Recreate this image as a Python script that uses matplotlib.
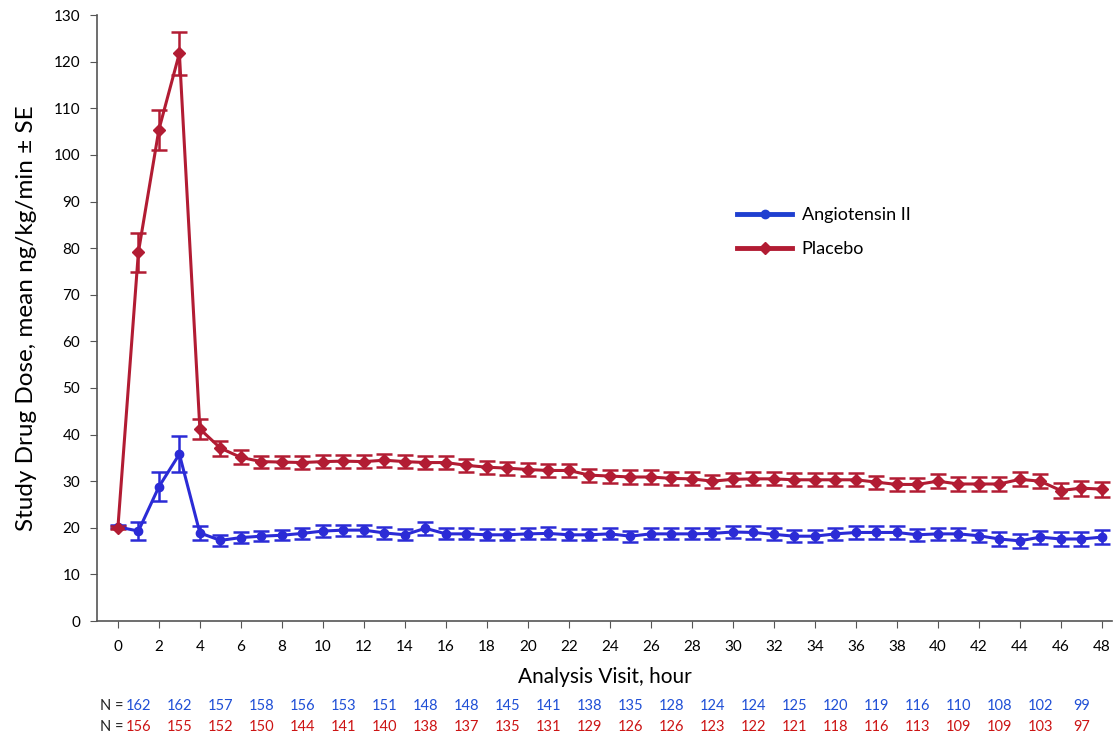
import numpy as np
import matplotlib
matplotlib.use("Agg")
import matplotlib.pyplot as plt
from matplotlib import transforms
from matplotlib.lines import Line2D

plt.rcParams['font.family'] = ['Lato', 'DejaVu Sans']

# hours since start of infusion
hours = list(range(49))

# mean study drug dose (ng/kg/min) and standard errors
ang_mean = [20.2, 19.3, 28.8, 35.8, 18.9, 17.3, 17.9, 18.2, 18.4, 18.8,
            19.3, 19.5, 19.5, 18.9, 18.5, 19.9, 18.7, 18.7, 18.5, 18.5,
            18.7, 18.8, 18.5, 18.5, 18.7, 18.2, 18.7, 18.7, 18.7, 18.8,
            19.1, 19.0, 18.6, 18.2, 18.2, 18.7, 19.0, 19.0, 19.0, 18.5,
            18.7, 18.7, 18.3, 17.6, 17.2, 18.0, 17.6, 17.6, 18.0]
ang_se = [0.3, 1.9, 3.1, 3.9, 1.5, 1.2, 1.1, 1.1, 1.1, 1.2,
          1.2, 1.2, 1.2, 1.2, 1.2, 1.4, 1.2, 1.2, 1.2, 1.2,
          1.2, 1.3, 1.2, 1.2, 1.2, 1.2, 1.2, 1.2, 1.2, 1.2,
          1.3, 1.3, 1.3, 1.3, 1.3, 1.3, 1.3, 1.3, 1.3, 1.3,
          1.3, 1.3, 1.3, 1.4, 1.5, 1.4, 1.4, 1.4, 1.5]

pbo_mean = [20.0, 79.1, 105.4, 121.8, 41.2, 37.1, 35.1, 34.2, 34.1, 34.0,
            34.2, 34.3, 34.2, 34.5, 34.2, 34.0, 34.0, 33.4, 33.0, 32.8,
            32.5, 32.3, 32.3, 31.3, 31.1, 30.9, 30.9, 30.6, 30.5, 30.0,
            30.4, 30.5, 30.5, 30.3, 30.3, 30.3, 30.3, 29.8, 29.3, 29.3,
            30.0, 29.4, 29.4, 29.4, 30.4, 30.0, 28.0, 28.5, 28.3]
pbo_se = [0.3, 4.2, 4.3, 4.6, 2.1, 1.6, 1.5, 1.3, 1.3, 1.4,
          1.4, 1.4, 1.4, 1.4, 1.4, 1.4, 1.4, 1.4, 1.4, 1.4,
          1.4, 1.4, 1.4, 1.4, 1.4, 1.4, 1.4, 1.4, 1.4, 1.4,
          1.4, 1.4, 1.4, 1.4, 1.4, 1.4, 1.4, 1.4, 1.4, 1.4,
          1.5, 1.5, 1.5, 1.5, 1.5, 1.5, 1.6, 1.6, 1.6]

# patients at risk, shown every other hour
n_hours = list(range(1, 48, 2))
n_ang = [162, 162, 157, 158, 156, 153, 151, 148, 148, 145, 141, 138,
         135, 128, 124, 124, 125, 120, 119, 116, 110, 108, 102, 99]
n_pbo = [156, 155, 152, 150, 144, 141, 140, 138, 137, 135, 131, 129,
         126, 126, 123, 122, 121, 118, 116, 113, 109, 109, 103, 97]

blue = '#2B2BD6'
red = '#B21C33'

fig = plt.figure(figsize=(11.16, 7.38), dpi=100)
ax = fig.add_axes([0.0869, 0.1585, 0.9095, 0.8211])

ax.errorbar(hours, ang_mean, yerr=ang_se, color=blue, lw=2.2, marker='o',
            ms=6, capsize=5.5, capthick=1.8, elinewidth=1.8,
            label='Angiotensin II', zorder=3)
ax.errorbar(hours, pbo_mean, yerr=pbo_se, color=red, lw=2.2, marker='D',
            ms=6, capsize=5.5, capthick=1.8, elinewidth=1.8,
            label='Placebo', zorder=3)

ax.set_xlim(-1.02, 48.5)
ax.set_ylim(0, 130)
ax.set_xticks(range(0, 49, 2))
ax.set_yticks(range(0, 131, 10))
ax.tick_params(labelsize=11, length=5, color='#555555', direction='out')
ax.tick_params(axis='x', pad=9)
ax.tick_params(axis='y', pad=7)
for s in ['top', 'right']:
    ax.spines[s].set_visible(False)
for s in ['left', 'bottom']:
    ax.spines[s].set_color('#555555')
    ax.spines[s].set_linewidth(1.2)

ax.set_xlabel('Analysis Visit, hour', fontsize=15, labelpad=9)
ax.set_ylabel('Study Drug Dose, mean ng/kg/min \u00b1 SE', fontsize=17.5,
              labelpad=12)

# legend without error bars
handles = [Line2D([], [], color='#1F3FD0', lw=3.5, marker='o', ms=6),
           Line2D([], [], color=red, lw=3.5, marker='D', ms=6)]
ax.legend(handles, ['Angiotensin II', 'Placebo'], frameon=False,
          fontsize=13, loc='upper left', bbox_to_anchor=(0.615, 0.71),
          handlelength=3.0, handletextpad=0.55, labelspacing=1.0)

# number-at-risk rows under the axis
trans = transforms.blended_transform_factory(ax.transData, fig.transFigure)
for row_y, vals, col in [(0.044, n_ang, '#1F4FD6'), (0.015, n_pbo, '#CC1414')]:
    ax.text(0.25, row_y, 'N =', transform=trans, ha='right', va='center',
            fontsize=10.5, color='#222222')
    for h, v in zip(n_hours, vals):
        ax.text(h, row_y, str(v), transform=trans, ha='center', va='center',
                fontsize=10.5, color=col)

fig.savefig('out.png', dpi=100)
